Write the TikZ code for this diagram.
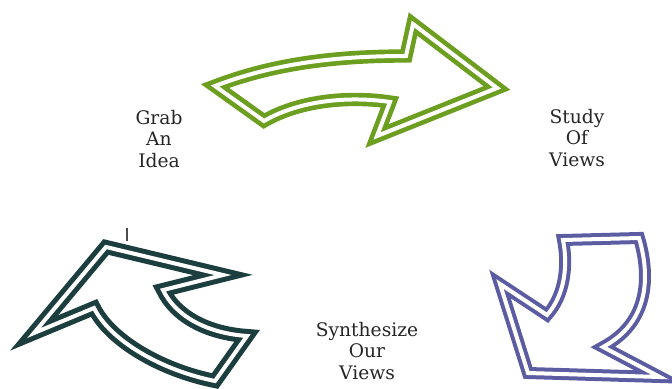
\documentclass[tikz,border=0pt]{standalone}
\usepackage{fontspec}
\setmainfont{DejaVu Serif}
\usetikzlibrary{positioning}
\definecolor{leafgreen}{RGB}{108,158,32}
\definecolor{deepteal}{RGB}{28,62,62}
\definecolor{slateblue}{RGB}{92,92,162}

\begin{document}
\begin{tikzpicture}[
    x=0.75pt, y=-0.75pt,
    outline/.style={double=white, double distance=3pt, line width=3.5pt, line join=miter},
    stagetext/.style={align=center, text=black!85, font=\fontsize{14}{16}\selectfont}
  ]
    \useasboundingbox (0,0) rectangle (672,389);

    % green arrow (top)
    \draw[outline, draw=leafgreen] (215,86) .. controls (270,65) and (330,56) .. (406,56)
      -- (413,24) -- (497,88) -- (377,136) -- (390,102)
      .. controls (350,96) and (300,100) .. (264,121) -- cycle;

    % purple arrow (right)
    \draw[outline, draw=slateblue, line width=3pt] (563,240) -- (639,238)
      .. controls (650,275) and (650,322) .. (603,347)
      -- (660,377) -- (528,373) -- (500,284) -- (547,315)
      .. controls (565,295) and (568,265) .. (563,240) -- cycle;

    % dark arrow (left)
    \draw[outline, draw=deepteal, line width=3.8pt] (34,333) -- (106,247) -- (223,275) -- (163,290)
      .. controls (175,315) and (205,333) .. (247,336)
      -- (215,381)
      .. controls (160,370) and (110,340) .. (94,308) -- cycle;
    \draw[black!70, line width=1.2pt] (127,228) -- (127,241);

    \node[stagetext] (grab) at (159,139) {Grab\\An\\Idea};
    \node[stagetext] (study) at (577,138) {Study\\Of\\Views};
    \node[stagetext] (synth) at (367,351) {Synthesize\\Our\\Views};
  \end{tikzpicture}
\end{document}
